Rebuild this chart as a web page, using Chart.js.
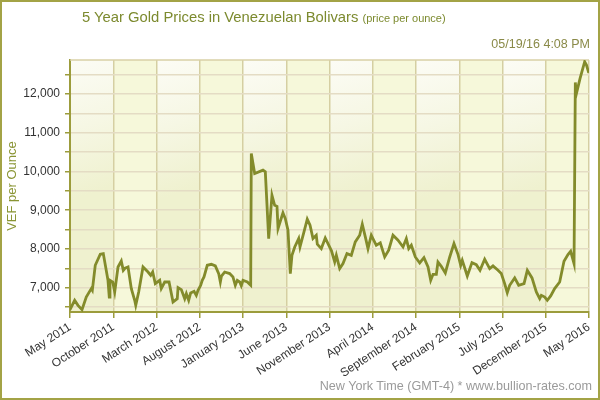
<!DOCTYPE html>
<html><head><meta charset="utf-8">
<script src="https://cdn.jsdelivr.net/npm/chart.js@4.4.0/dist/chart.umd.min.js"></script>
<style>
html,body{margin:0;padding:0;background:#fff;}
#wrap{position:relative;width:600px;height:400px;font-family:"Liberation Sans",Arial,sans-serif;overflow:hidden;}
#c{position:absolute;left:0;top:0;}
#frame{position:absolute;left:0;top:0;width:600px;height:400px;box-sizing:border-box;border:2px solid #a3a346;pointer-events:none;}
#title{position:absolute;left:82px;top:7px;color:#7c8a2e;font-size:14.8px;line-height:20px;white-space:nowrap;}
#title span{font-size:11px;}
#stamp{position:absolute;right:10px;top:36px;color:#8a8a48;font-size:12.5px;line-height:16px;white-space:nowrap;}
#foot{position:absolute;right:8px;top:378px;color:#9a9a9a;font-size:12.6px;line-height:16px;white-space:nowrap;}
</style>
</head><body>
<div id="wrap">
<canvas id="c" width="600" height="400"></canvas>
<div id="title">5 Year Gold Prices in Venezuelan Bolivars <span>(price per ounce)</span></div>
<div id="stamp">05/19/16 4:08 PM</div>
<div id="foot">New York Time (GMT-4) * www.bullion-rates.com</div>
<div id="frame"></div>
</div>
<script>
// months since May 2011
const months = [0,0.54,0.92,1.39,1.88,2.46,2.58,2.92,3.50,3.85,4.39,4.54,4.62,4.94,5.17,5.55,5.93,6.16,6.36,6.71,7.09,7.48,7.60,7.94,8.44,9.02,9.33,9.56,9.86,10.37,10.55,10.95,11.45,11.91,12.40,12.49,12.87,13.26,13.45,13.72,13.95,14.34,14.60,14.80,15.11,15.29,
15.49,15.87,16.34,16.80,17.19,17.38,17.51,17.88,18.46,18.84,19.11,19.34,19.62,19.80,20.00,20.50,20.89,20.96,21.35,22.31,22.58,22.97,23.35,23.66,23.93,24.05,24.62,24.89,25.20,25.47,25.66,25.98,26.44,26.59,27.05,27.43,27.75,28.09,28.47,28.59,29.05,29.51,29.91,30.23,30.60,30.79,31.18,31.56,32.02,32.52,32.98,33.49,33.79,34.14,34.45,34.83,35.41,35.87,36.38,36.84,37.34,37.92,38.50,38.88,39.16,39.46,39.92,40.43,40.92,41.39,41.70,41.97,42.35,42.54,42.92,43.39,43.90,44.39,44.86,45.17,45.35,45.93,46.47,46.97,47.40,47.94,48.52,48.90,49.48,49.86,50.25,50.55,50.83,51.41,51.87,52.49,52.87,53.41,53.91,54.30,54.49,54.88,55.18,55.57,56.03,56.61,57.11,57.57,57.88,58.27,58.42,58.53,58.96,59.50,59.71,59.97];
const prices = [6430,6672,6542,6431,6757,6974,6930,7577,7861,7879,7189,6757,7189,7145,6887,7533,7688,7447,7500,7533,6974,6672,6542,6887,7533,7403,7318,7403,7103,7189,6974,7145,7145,6628,6714,7000,6948,6714,6843,6672,6862,6904,6800,6930,7060,7189,
7275,7577,7603,7560,7362,7145,7300,7403,7362,7275,7060,7189,7145,7050,7189,7145,7060,10465,9948,10033,9990,8267,9387,9128,9100,8526,8929,8784,8482,7362,7835,8050,8267,8050,8438,8766,8610,8267,8352,8120,8008,8283,8100,7950,7663,7835,7491,7620,7879,7835,8180,8352,8637,8309,8008,8352,8094,8155,7792,7965,8352,8223,8050,8267,8008,8094,7792,7637,7775,7533,7189,7344,7344,7663,7551,7378,7792,8138,7853,7577,7706,7300,7646,7594,7447,7732,7491,7560,7447,7362,7103,6870,7060,7250,7060,7103,7447,7250,6887,6714,6800,6757,6672,6785,6974,7145,7680,7853,7939,7620,12300,12000,12400,12835,12750,12550];
const tickLabels = ["May 2011","October 2011","March 2012","August 2012","January 2013","June 2013","November 2013","April 2014","September 2014","February 2015","July 2015","December 2015","May 2016"];
const yTickValues = [6500,7000,7500,8000,8500,9000,9500,10000,10500,11000,11500,12000,12500];

const points = months.map((m,i)=>({x:m,y:prices[i]}));

const bgPlugin = {
  id:'bg',
  beforeDraw(chart){
    const {ctx, chartArea:a, scales:{x}} = chart;
    ctx.save();
    for(let i=0;i<12;i++){
      const x0 = x.getPixelForValue(i*5), x1 = x.getPixelForValue(i*5+5);
      if(i%2===0){
        const g = ctx.createLinearGradient(x0,a.top,x1,a.top+(a.bottom-a.top)*0.5);
        g.addColorStop(0,'#fcfcf5');
        g.addColorStop(0.5,'#f6f7e4');
        g.addColorStop(1,'#eff1cf');
        ctx.fillStyle = g;
      } else {
        ctx.fillStyle = '#f6f8da';
      }
      ctx.fillRect(x0,a.top,x1-x0,a.bottom-a.top);
    }
    ctx.restore();
  },
  beforeDatasetsDraw(chart){
    const {ctx, chartArea:a} = chart;
    ctx.save();
    ctx.strokeStyle='#d8d0a6';
    ctx.lineWidth=1.5;
    ctx.beginPath();
    ctx.moveTo(a.left,a.top);ctx.lineTo(a.right,a.top);
    ctx.stroke();
    ctx.restore();
  }
};

new Chart(document.getElementById('c'),{
  type:'line',
  data:{datasets:[{data:points,borderColor:'#838b2b',borderWidth:2.8,pointRadius:0,tension:0,fill:false}]},
  options:{
    responsive:false,animation:false,
    layout:{padding:{left:0,top:60,right:11,bottom:0}},
    plugins:{legend:{display:false},tooltip:{enabled:false}},
    scales:{
      x:{type:'linear',min:0,max:60,
        afterFit(s){s.height=88;},
        ticks:{stepSize:5,autoSkip:false,minRotation:33,maxRotation:33,color:'#333',font:{family:'"Liberation Sans", Arial, sans-serif',size:12},padding:2,
          callback:(v)=>tickLabels[Math.round(v/5)]??''},
        grid:{color:'#d5cfa2',lineWidth:1.5,tickColor:'#9c9c3c',tickLength:6},
        border:{color:'#9c9c3c',width:2}
      },
      y:{type:'linear',min:6370,max:12880,
        afterFit(s){s.width=70;},
        afterBuildTicks(s){s.ticks = yTickValues.map(v=>({value:v}));},
        ticks:{autoSkip:false,color:'#333',font:{family:'"Liberation Sans", Arial, sans-serif',size:12},padding:5,
          callback:(v)=> v%1000===0 ? v.toLocaleString('en-US') : ''},
        grid:{color:'#e4dcc4',lineWidth:1.5,tickColor:'#9c9c3c',tickLength:5},
        border:{color:'#9c9c3c',width:2},
        title:{display:true,text:'VEF per Ounce',color:'#8a9535',font:{family:'"Liberation Sans", Arial, sans-serif',size:13},padding:{top:5,bottom:2}}
      }
    }
  },
  plugins:[bgPlugin]
});
</script>
</body></html>
